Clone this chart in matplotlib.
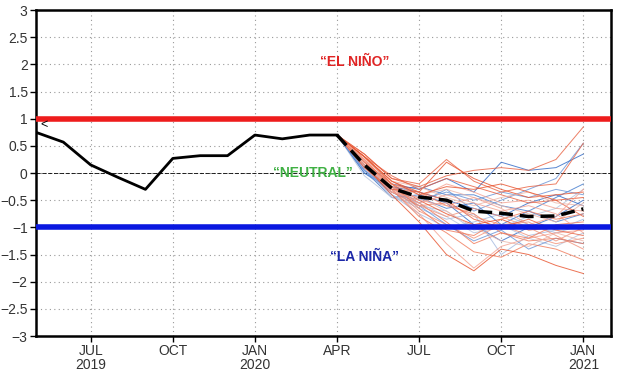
import matplotlib
matplotlib.use("Agg")
import matplotlib.pyplot as plt

plt.rcParams['font.family'] = ['Liberation Sans', 'DejaVu Sans']

# months counted from May 2019 (0) to Feb 2021 (21)
tick_pos = [2, 5, 8, 11, 14, 17, 20]
tick_labels = ['JUL\n2019', 'OCT', 'JAN\n2020', 'APR', 'JUL', 'OCT', 'JAN\n2021']
y_ticks = [-3, -2.5, -2, -1.5, -1, -0.5, 0, 0.5, 1, 1.5, 2, 2.5, 3]
y_tick_labels = ['\u22123', '\u22122.5', '\u22122', '\u22121.5', '\u22121', '\u22120.5',
                 '0', '0.5', '1', '1.5', '2', '2.5', '3']

# observed index, May 2019 - Apr 2020
obs_months = [0, 1, 2, 3, 4, 5, 6, 7, 8, 9, 10, 11]
obs_values = [0.75, 0.57, 0.15, -0.08, -0.30, 0.27, 0.32, 0.32, 0.70, 0.63, 0.70, 0.70]

# forecast months, Apr 2020 - Jan 2021
fc_months = [11, 12, 13, 14, 15, 16, 17, 18, 19, 20]
ens_mean = [0.70, 0.15, -0.28, -0.44, -0.50, -0.70, -0.74, -0.80, -0.79, -0.66]

red_members = [
    [0.7, 0.30, -0.15, -0.35, 0.20, -0.10, -0.30, -0.45, -0.40, -0.35],
    [0.7, 0.25, -0.25, -0.55, -0.90, -1.30, -1.10, -1.25, -1.20, -1.30],
    [0.7, 0.20, -0.30, -0.75, -1.30, -1.75, -1.35, -1.20, -1.10, -1.05],
    [0.7, 0.35, -0.10, -0.20, 0.25, -0.15, -0.35, -0.25, -0.20, 0.55],
    [0.7, 0.15, -0.35, -0.60, -0.55, -0.80, -0.95, -1.15, -1.30, -1.20],
    [0.7, 0.20, -0.20, -0.40, -0.30, -0.45, -0.60, -0.75, -0.90, -0.55],
    [0.7, 0.30, -0.20, -0.50, -0.75, -0.95, -0.85, -1.05, -1.00, -0.95],
    [0.7, 0.25, -0.30, -0.80, -1.10, -1.45, -1.55, -1.30, -1.40, -1.60],
    [0.7, 0.10, -0.35, -0.45, -0.20, -0.35, -0.55, -0.50, -0.65, -0.70],
    [0.7, 0.30, -0.05, -0.30, -0.10, -0.25, -0.40, -0.55, -0.50, -0.80],
    [0.7, 0.20, -0.25, -0.70, -0.95, -1.20, -0.95, -0.90, -1.15, -1.40],
    [0.7, 0.25, -0.15, -0.25, -0.45, -0.60, -0.45, -0.35, -0.55, -0.60],
    [0.7, 0.15, -0.40, -0.90, -1.50, -1.80, -1.40, -1.50, -1.70, -1.85],
    [0.7, 0.30, -0.20, -0.35, -0.60, -0.75, -1.10, -1.20, -0.95, -0.90],
    [0.7, 0.20, -0.30, -0.55, -0.40, -0.55, -0.70, -0.60, -0.75, -1.10],
    [0.7, 0.35, -0.10, -0.25, -0.05, 0.05, 0.10, 0.05, 0.25, 0.85],
    [0.7, 0.25, -0.25, -0.60, -0.80, -0.65, -0.80, -1.00, -1.25, -1.00],
    [0.7, 0.15, -0.30, -0.45, -0.70, -1.00, -1.25, -1.35, -1.10, -1.25],
    [0.7, 0.30, -0.15, -0.40, -0.25, -0.30, -0.20, -0.35, -0.50, -0.45],
    [0.7, 0.20, -0.20, -0.65, -1.05, -1.15, -0.85, -0.70, -0.85, -0.75],
    [0.7, 0.25, -0.35, -0.50, -0.60, -0.45, -0.65, -0.95, -0.80, -0.30],
    [0.7, 0.10, -0.30, -0.35, -0.50, -0.85, -1.00, -0.85, -1.05, -1.15],
]
blue_members = [
    [0.7, 0.05, -0.45, -0.40, -0.55, -0.95, -1.25, -1.00, -0.80, -0.50],
    [0.7, 0.00, -0.35, -0.55, -0.30, -0.70, -0.50, -0.30, -0.10, 0.55],
    [0.7, 0.10, -0.40, -0.65, -0.85, -0.75, -1.50, -1.15, -1.05, -0.85],
    [0.7, 0.05, -0.30, -0.25, -0.40, -0.40, -0.60, -0.70, -0.45, -0.20],
    [0.7, -0.05, -0.45, -0.60, -0.70, -1.05, -0.95, -1.20, -1.35, -1.10],
    [0.7, 0.10, -0.25, -0.35, -0.50, -0.65, -0.80, -0.55, -0.40, -0.60],
    [0.7, 0.15, -0.35, -0.50, -0.35, -0.50, -0.35, -0.45, -0.30, -0.40],
    [0.7, 0.05, -0.40, -0.75, -1.00, -0.90, -0.75, -0.95, -1.10, -0.95],
    [0.7, 0.00, -0.30, -0.45, -0.65, -0.55, -0.95, -0.70, -0.90, -0.75],
    [0.7, 0.10, -0.45, -0.55, -0.80, -1.10, -1.00, -0.80, -0.65, -0.30],
    [0.7, 0.20, -0.20, -0.30, -0.10, -0.35, 0.20, 0.05, 0.10, 0.35],
    [0.7, 0.05, -0.35, -0.60, -0.95, -1.25, -1.05, -1.40, -1.20, -1.30],
]

red_shades = ['#e8502a', '#f07858', '#f4a090', '#e86040', '#f29078', '#eab4a8']
blue_shades = ['#3a70c8', '#6f98d8', '#a8bce0', '#4a80d0', '#b8c4dc']

fig = plt.figure(figsize=(6.2, 3.75), dpi=100)
ax = fig.add_axes([0.058, 0.104, 0.927, 0.869])

ax.set_xlim(0, 21)
ax.set_ylim(-3, 3)

# grid
for y in y_ticks:
    ax.axhline(y, color='#999999', lw=0.8, ls=(0, (1, 3)), zorder=0)
for x in tick_pos:
    ax.axvline(x, color='#999999', lw=0.8, ls=(0, (1, 3)), zorder=0)
ax.axhline(0, color='black', lw=0.6, ls=(0, (5, 2)), zorder=1)

# ensemble members
for i, m in enumerate(blue_members):
    ax.plot(fc_months, m, color=blue_shades[i % len(blue_shades)], lw=0.7, alpha=0.85, zorder=2)
for i, m in enumerate(red_members):
    ax.plot(fc_months, m, color=red_shades[i % len(red_shades)], lw=0.7, alpha=0.8, zorder=2)

# thresholds
ax.axhline(1, color='#ee1c1c', lw=4, zorder=3)
ax.axhline(-1, color='#0a18e0', lw=4, zorder=3)

ax.plot(obs_months, obs_values, color='black', lw=2, zorder=4)
ax.plot(fc_months, ens_mean, color='black', lw=2.5, ls=(0, (4, 2)), zorder=4)

ax.text(0.15, 0.78, '<', fontsize=9, va='bottom', ha='left')
ax.text(11.65, 2.05, '\u201cEL NI\u00d1O\u201d', color='#e02424', fontsize=10, fontweight='bold',
        ha='center', va='center')
ax.text(10.1, 0.0, '\u201cNEUTRAL\u201d', color='#3fb043', fontsize=10, fontweight='bold',
        ha='center', va='center', zorder=5)
ax.text(12.0, -1.55, '\u201cLA NI\u00d1A\u201d', color='#1c28a8', fontsize=10, fontweight='bold',
        ha='center', va='center')

ax.set_xticks(tick_pos)
ax.set_xticklabels(tick_labels, fontsize=10, color='#333333', linespacing=0.95)
ax.set_yticks(y_ticks)
ax.set_yticklabels(y_tick_labels, fontsize=10, color='#333333')
ax.tick_params(direction='out', length=4, width=1, pad=2)
for s in ax.spines.values():
    s.set_linewidth(1.8)

fig.savefig('out.png', dpi=100)
